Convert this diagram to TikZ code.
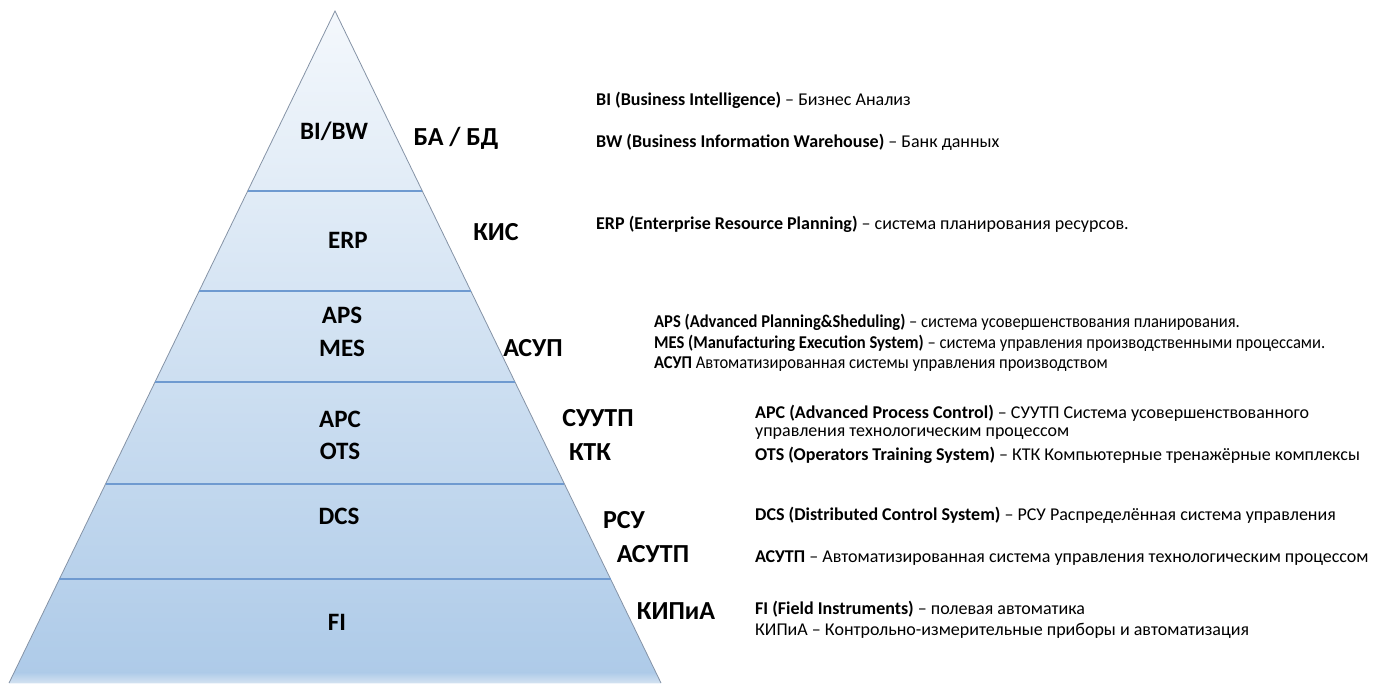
\documentclass[tikz,border=0pt]{standalone}
\usepackage{fontspec}
\setmainfont{Carlito}
\usetikzlibrary{calc}
\definecolor{edgegray}{HTML}{8593A6}
\definecolor{sepblue}{HTML}{6F9AD0}
\definecolor{topfill}{HTML}{F4F8FC}
\definecolor{botfill}{HTML}{ADCAE8}
\definecolor{basefill}{HTML}{D3E2F1}
\tikzset{
  lvl/.style={font=\bfseries\fontsize{25}{27}\selectfont, inner sep=0pt},
  side/.style={font=\bfseries\fontsize{26}{28}\selectfont, inner sep=0pt},
  desc/.style={anchor=west, font=\fontsize{18}{20}\selectfont, inner sep=0pt},
  sep/.style={draw=sepblue, line width=1.1pt}
}
\newcommand{\cond}[1]{\scalebox{0.92}[1]{#1}}
\begin{document}
\begin{tikzpicture}[x=1pt,y=-1pt]
\useasboundingbox (0,0) rectangle (1389,683);
\coordinate (A) at (335,11);
\coordinate (L) at (9,683);
\coordinate (R) at (661,683);
\shade[top color=topfill, bottom color=botfill] (A) -- (L) -- (R) -- cycle;
\begin{scope}
  \clip (A) -- (L) -- (R) -- cycle;
  \shade[top color=botfill, bottom color=basefill] (0,672) rectangle (700,683);
\end{scope}
\draw[edgegray, line width=0.8pt] (L) -- (A) -- (R);
\foreach \t/\n in {0.2679/1,0.4167/2,0.5521/3,0.7039/4,0.8452/5}{
  \coordinate (l\n) at ($(A)!\t!(L)$);
  \coordinate (r\n) at ($(A)!\t!(R)$);
  \draw[sep] (l\n) -- (r\n);
}
% pyramid labels
\node[lvl] (bibw) at (334,131) {BI/BW};
\node[lvl] (erp) at (348,240) {ERP};
\node[lvl] (aps) at (342,315) {APS};
\node[lvl] (mes) at (342,348) {MES};
\node[lvl] (apc) at (340,419) {APC};
\node[lvl] (ots) at (340,451) {OTS};
\node[lvl] (dcs) at (339,516) {DCS};
\node[lvl] (fi) at (337,622) {FI};
% side labels
\node[side] (bad) at (456,138) {БА / БД};
\node[side] (kis) at (496,232) {КИС};
\node[side] (asup) at (533,348) {АСУП};
\node[side] (suutp) at (598,418) {СУУТП};
\node[side] (ktk) at (590,452) {КТК};
\node[side] (rsu) at (624,520) {РСУ};
\node[side] (asutp) at (653,554) {АСУТП};
\node[side] (kipia) at (676,611) {КИПиА};
% descriptions
\node[desc] (dbi) at (596,100) {\textbf{BI (Business Intelligence)} – Бизнес Анализ};
\node[desc] (dbw) at (596,142) {\textbf{BW (Business Information Warehouse)} – Банк данных};
\node[desc] (derp) at (596,224) {\textbf{ERP (Enterprise Resource Planning)} – система планирования ресурсов.};
\node[desc] (daps) at (654,322) {\cond{\textbf{APS (Advanced Planning\&Sheduling)} – система усовершенствования планирования.}};
\node[desc] (dmes) at (654,343) {\cond{\textbf{MES (Manufacturing Execution System)} – система управления производственными процессами.}};
\node[desc] (dasup) at (654,364) {\cond{\textbf{АСУП} Автоматизированная системы управления производством}};
\node[desc] (dapc) at (755,413) {\textbf{APC (Advanced Process Control)} – СУУТП Система усовершенствованного};
\node[desc] (dapc2) at (755,434) {управления технологическим процессом};
\node[desc] (dots) at (755,455) {\textbf{OTS (Operators Training System)} – КТК Компьютерные тренажёрные комплексы};
\node[desc] (ddcs) at (755,515) {\textbf{DCS (Distributed Control System)} – РСУ Распределённая система управления};
\node[desc] (dasutp) at (755,558) {\textbf{АСУТП} – Автоматизированная система управления технологическим процессом};
\node[desc] (dfi) at (755,609) {\textbf{FI (Field Instruments)} – полевая автоматика};
\node[desc] (dkip) at (755,631) {КИПиА – Контрольно-измерительные приборы и автоматизация};
\end{tikzpicture}
\end{document}
